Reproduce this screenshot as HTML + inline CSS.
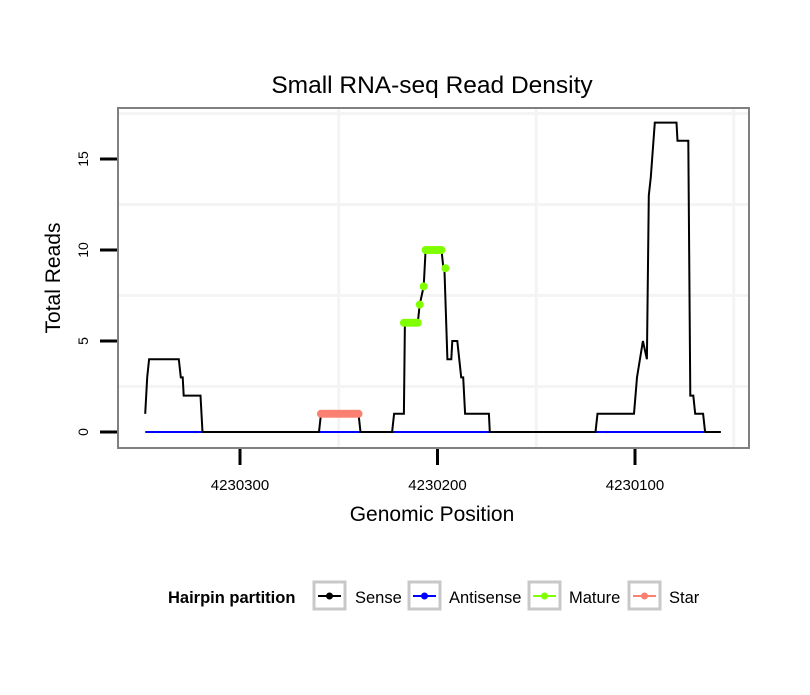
<!DOCTYPE html>
<html><head><meta charset="utf-8"><style>
body{margin:0;background:#fff;}
svg text{font-family:"Liberation Sans",sans-serif;}
</style></head><body>
<svg width="810" height="690" viewBox="0 0 810 690" id="c">
<rect x="0" y="0" width="810" height="690" fill="#fff"/>
<text x="432" y="93" text-anchor="middle" font-size="24.5">Small RNA-seq Read Density</text>
<rect x="118" y="108" width="631" height="340" fill="#fff"/>
<g id="grid"></g>
<g id="series"></g>
<rect x="118" y="108" width="631" height="340" fill="none" stroke="#808080" stroke-width="2"/>
<g id="axes"></g>
<text x="432" y="521" text-anchor="middle" font-size="21">Genomic Position</text>
<text transform="translate(60,278) rotate(-90)" text-anchor="middle" font-size="21">Total Reads</text>
<g>
<text x="168" y="603" font-size="16.5" font-weight="bold">Hairpin partition</text>
<g><rect x="314" y="582" width="31" height="27" fill="#fff" stroke="#c8c8c8" stroke-width="3"/><line x1="318" y1="596" x2="341" y2="596" stroke="#000" stroke-width="2"/><circle cx="329.5" cy="596" r="3.5" fill="#000"/><text x="355" y="603" font-size="16.5">Sense</text></g>
<g><rect x="409" y="582" width="31" height="27" fill="#fff" stroke="#c8c8c8" stroke-width="3"/><line x1="413" y1="596" x2="436" y2="596" stroke="#0000ff" stroke-width="2"/><circle cx="424.5" cy="596" r="3.5" fill="#0000ff"/><text x="449" y="603" font-size="16.5">Antisense</text></g>
<g><rect x="529" y="582" width="31" height="27" fill="#fff" stroke="#c8c8c8" stroke-width="3"/><line x1="533" y1="596" x2="556" y2="596" stroke="#7fff00" stroke-width="2"/><circle cx="544.5" cy="596" r="3.5" fill="#7fff00"/><text x="569" y="603" font-size="16.5">Mature</text></g>
<g><rect x="629" y="582" width="31" height="27" fill="#fff" stroke="#c8c8c8" stroke-width="3"/><line x1="633" y1="596" x2="656" y2="596" stroke="#fa8072" stroke-width="2"/><circle cx="644.5" cy="596" r="3.5" fill="#fa8072"/><text x="669" y="603" font-size="16.5">Star</text></g>
</g>
</svg>
<script>
const senseX=[4230348,4230347,4230346,4230331,4230330,4230329,4230328.5,4230320,4230319,4230260,4230259,4230240,4230239,4230223,4230222,4230217,4230216.5,4230210,4230209,4230207,4230206,4230198,4230197,4230196.5,4230195,4230193,4230192.5,4230190,4230188,4230187,4230186,4230174,4230173.5,4230120,4230119,4230100.5,4230099,4230096,4230094,4230093,4230092,4230090,4230079,4230078.5,4230073,4230072,4230070.5,4230069.5,4230065.5,4230064.5,4230056.5];
const senseY=[1,3,4,4,3,3,2,2,0,0,1,1,0,0,1,1,6,6,7,8,10,10,9,9,4,4,5,5,3,3,1,1,0,0,1,1,3,5,4,13,14,17,17,16,16,2,2,1,1,0,0];
const antiX=[4230348,4230065];
const antiY=[0,0];
const matureX=[4230217,4230216,4230215,4230214,4230213,4230212,4230211,4230210,4230209,4230207,4230206,4230205,4230204,4230203,4230202,4230201,4230200,4230199,4230198,4230196];
const matureY=[6,6,6,6,6,6,6,6,7,8,10,10,10,10,10,10,10,10,10,9];
const starX=[4230259,4230258,4230257,4230256,4230255,4230254,4230253,4230252,4230251,4230250,4230249,4230248,4230247,4230246,4230245,4230244,4230243,4230242,4230241,4230240];
const starY=[1,1,1,1,1,1,1,1,1,1,1,1,1,1,1,1,1,1,1,1];
const xTicks=[4230300,4230200,4230100];
const xTickLabels=["4230300","4230200","4230100"];
const yTicks=[0,5,10,15];
const yTickLabels=["0","5","10","15"];
const xGrid=[4230250,4230150,4230050];
const yGrid=[2.5,7.5,12.5,17.5];

const NS="http://www.w3.org/2000/svg";
function sx(p){return 240+(4230300-p)*1.975;}
function sy(v){return 432-v*18.2;}
function mk(tag,attrs,parent){const e=document.createElementNS(NS,tag);for(const k in attrs)e.setAttribute(k,attrs[k]);parent.appendChild(e);return e;}
const grid=document.getElementById('grid'),ser=document.getElementById('series'),axes=document.getElementById('axes');
xGrid.forEach(p=>{const l=mk('line',{x1:sx(p),x2:sx(p),y1:109,y2:447,stroke:'#f4f4f4','stroke-width':3},grid);

});
yGrid.forEach(v=>{const l=mk('line',{x1:119,x2:748,y1:sy(v),y2:sy(v),stroke:'#f4f4f4','stroke-width':3},grid);

});
function pts(X,Y){return X.map((x,i)=>sx(x).toFixed(1)+','+sy(Y[i]).toFixed(1)).join(' ');}
const a=mk('polyline',{points:pts(antiX,antiY),fill:'none',stroke:'#0000ff','stroke-width':2},ser);


const s=mk('polyline',{points:pts(senseX,senseY),fill:'none',stroke:'#000','stroke-width':2},ser);


matureX.forEach((x,i)=>{const c=mk('circle',{cx:sx(x),cy:sy(matureY[i]),r:4,fill:'#7fff00'},ser);

});
starX.forEach((x,i)=>{const c=mk('circle',{cx:sx(x),cy:sy(starY[i]),r:4,fill:'#fa8072'},ser);

});
xTicks.forEach((p,i)=>{const t=mk('line',{x1:sx(p),x2:sx(p),y1:449,y2:465,stroke:'#000','stroke-width':3},axes);


const tx=mk('text',{x:sx(p),y:490,'text-anchor':'middle','font-size':15},axes);tx.textContent=xTickLabels[i];

});
yTicks.forEach((v,i)=>{const t=mk('line',{x1:100,x2:117,y1:sy(v),y2:sy(v),stroke:'#000','stroke-width':3},axes);


const tx=mk('text',{transform:`translate(88,${sy(v)}) rotate(-90)`,'text-anchor':'middle','font-size':14},axes);tx.textContent=yTickLabels[i];

});
</script>
</body></html>
